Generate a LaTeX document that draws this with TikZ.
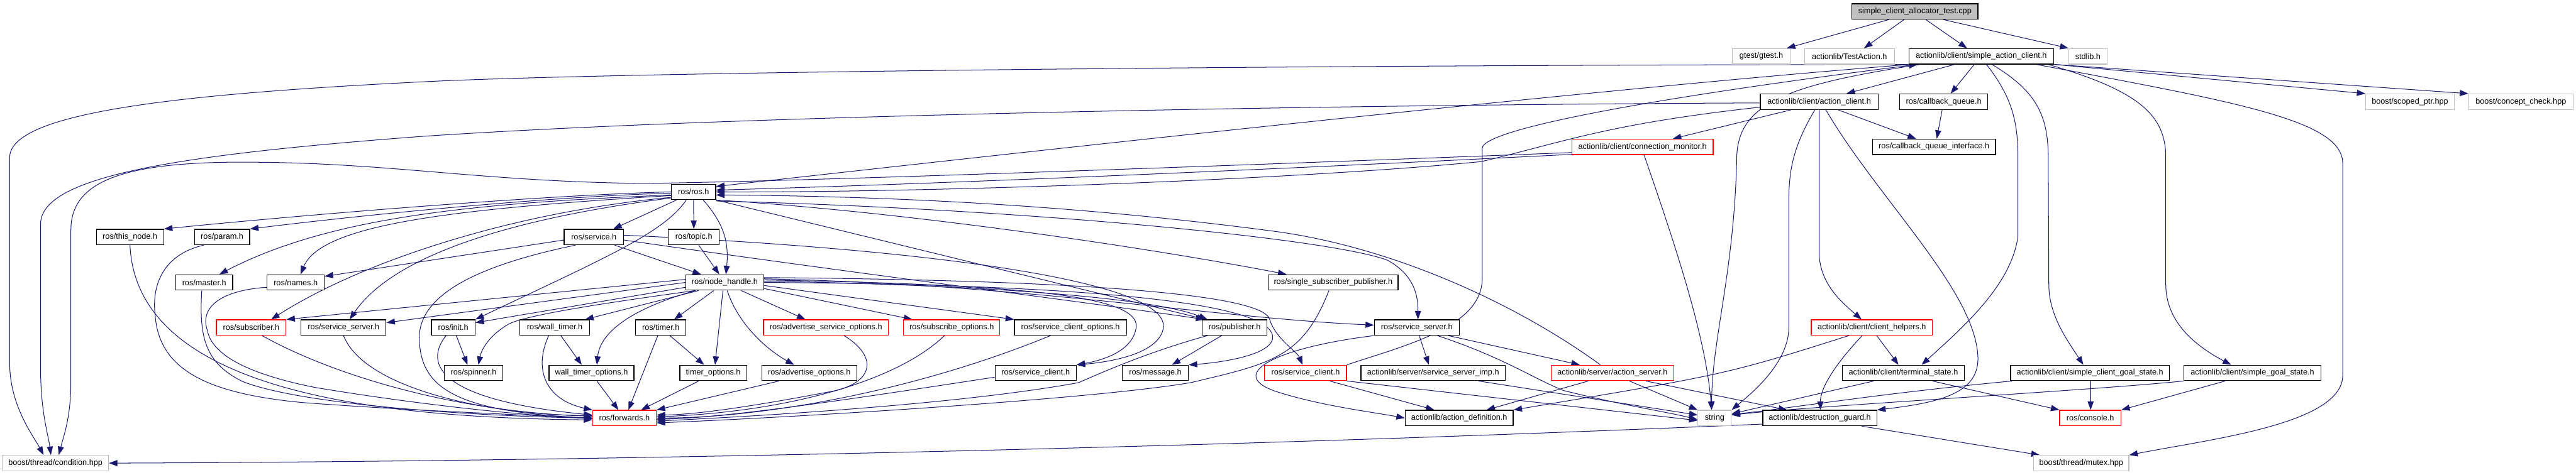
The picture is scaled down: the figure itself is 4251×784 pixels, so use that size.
\documentclass[tikz,border=0pt]{standalone}
\usepackage{fontspec}
\setmainfont{Liberation Sans}
\usetikzlibrary{arrows.meta}
\definecolor{edgec}{HTML}{191970}
\definecolor{gborder}{HTML}{BFBFBF}
\definecolor{rborder}{HTML}{FF0000}
\pgfdeclarelayer{bg}
\pgfsetlayers{bg,main}
\tikzset{
  nb/.style={draw=black, line width=0.35pt, minimum height=0.255cm, inner sep=0pt, fill=white,
    font=\fontsize{3.75pt}{4.5pt}\selectfont},
  nr/.style={nb, draw=rborder},
  ng/.style={nb, draw=gborder},
  ntop/.style={nb, fill=gborder},
  e/.style={draw=edgec, line width=0.3pt, -{Triangle[length=0.14cm,width=0.1cm]}}
}
\newcommand{\bx}[6]{\node[#1, minimum width=#2cm] (#3) at (#4,#5) {#6};}
\begin{document}
\begin{tikzpicture}[x=0.01cm, y=-0.01cm]
\useasboundingbox (0,0) rectangle (4251,784);
% nodes
\bx{ntop}{2.08}{top}{3160}{19}{simple\_client\_allocator\_test.cpp}
\bx{ng}{0.95}{gtest}{2906.5}{93}{gtest/gtest.h}
\bx{ng}{1.48}{testaction}{3052}{93}{actionlib/TestAction.h}
\bx{nb}{2.39}{sac}{3269.5}{93}{actionlib/client/simple\_action\_client.h}
\bx{ng}{0.63}{stdlib}{3445.5}{93}{stdlib.h}
\bx{nb}{1.94}{ac}{3002}{168}{actionlib/client/action\_client.h}
\bx{nb}{1.45}{cbq}{3207.5}{168}{ros/callback\_queue.h}
\bx{ng}{1.46}{scoped}{3977}{168}{boost/scoped\_ptr.hpp}
\bx{ng}{1.72}{concept}{4160}{168}{boost/concept\_check.hpp}
\bx{nr}{2.33}{cm}{2710.5}{242.5}{actionlib/client/connection\_monitor.h}
\bx{nb}{2.03}{cbqi}{3191.5}{242.5}{ros/callback\_queue\_interface.h}
\bx{nb}{0.73}{ros}{1144.5}{317}{ros/ros.h}
\bx{nb}{1.11}{thisnode}{214.5}{391.5}{ros/this\_node.h}
\bx{nb}{0.91}{param}{366.5}{391.5}{ros/param.h}
\bx{nb}{0.98}{service}{980}{391.5}{ros/service.h}
\bx{nb}{0.84}{topic}{1145}{391.5}{ros/topic.h}
\bx{nb}{0.94}{master}{337}{466.5}{ros/master.h}
\bx{nb}{0.94}{names}{488}{466.5}{ros/names.h}
\bx{nb}{1.28}{nh}{1196}{466.5}{ros/node\_handle.h}
\bx{nb}{2.14}{ssp}{2200}{466.5}{ros/single\_subscriber\_publisher.h}
\bx{nr}{1.15}{sub}{414.5}{541}{ros/subscriber.h}
\bx{nb}{1.40}{ssl}{567}{541}{ros/service\_server.h}
\bx{nb}{0.72}{init}{748}{541}{ros/init.h}
\bx{nb}{1.15}{wt}{915.5}{541}{ros/wall\_timer.h}
\bx{nb}{0.83}{timer}{1090.5}{541}{ros/timer.h}
\bx{nr}{2.06}{aso}{1363}{541}{ros/advertise\_service\_options.h}
\bx{nr}{1.59}{so}{1570.5}{541}{ros/subscribe\_options.h}
\bx{nb}{1.85}{sco}{1766.5}{541}{ros/service\_client\_options.h}
\bx{nb}{1.07}{pub}{2037.5}{541}{ros/publisher.h}
\bx{nb}{1.40}{ssr}{2338}{541}{ros/service\_server.h}
\bx{nr}{2.00}{ch}{3089}{541}{actionlib/client/client\_helpers.h}
\bx{nb}{0.97}{spin}{781.5}{616}{ros/spinner.h}
\bx{nb}{1.40}{wto}{976}{616}{wall\_timer\_options.h}
\bx{nb}{1.10}{tmo}{1177}{616}{timer\_options.h}
\bx{nb}{1.57}{ao}{1335.5}{616}{ros/advertise\_options.h}
\bx{nb}{1.34}{scb}{1709}{616}{ros/service\_client.h}
\bx{nb}{1.09}{msg}{1906.5}{616}{ros/message.h}
\bx{nr}{1.35}{scr}{2154.5}{616}{ros/service\_client.h}
\bx{nb}{2.38}{ssimp}{2365}{616}{actionlib/server/service\_server\_imp.h}
\bx{nr}{2.02}{asrv}{2661}{616}{actionlib/server/action\_server.h}
\bx{nb}{2.02}{ts}{3141}{616}{actionlib/client/terminal\_state.h}
\bx{nb}{2.62}{scgs}{3449}{616}{actionlib/client/simple\_client\_goal\_state.h}
\bx{nb}{2.26}{sgs}{3717}{616}{actionlib/client/simple\_goal\_state.h}
\bx{nr}{1.05}{fwd}{1030.5}{690.5}{ros/forwards.h}
\bx{nb}{1.78}{ad}{2408}{690.5}{actionlib/action\_definition.h}
\bx{ng}{0.55}{str}{2829.5}{690.5}{string}
\bx{nb}{1.88}{dg}{3003}{690.5}{actionlib/destruction\_guard.h}
\bx{nr}{1.01}{con}{3449.5}{690.5}{ros/console.h}
\bx{ng}{1.75}{cond}{91.5}{765}{boost/thread/condition.hpp}
\bx{ng}{1.57}{mutex}{3434.5}{765}{boost/thread/mutex.hpp}
% edges
\begin{pgfonlayer}{bg}
\fill[white] (0,0) rectangle (4251,784);
\draw[e] ([xshift=-0.43cm]top.south) -- ([xshift=0.42cm]gtest.north);
\draw[e] ([xshift=-0.18cm]top.south) -- ([xshift=0.24cm]testaction.north);
\draw[e] ([xshift=0.18cm]top.south) -- ([xshift=-0.235cm]sac.north);
\draw[e] ([xshift=0.47cm]top.south) -- (stdlib.north west);
% sac
\draw[e] ([xshift=-0.435cm]sac.south) -- ([xshift=0.45cm]ac.north);
\draw[e] ([xshift=-0.115cm]sac.south) -- ([xshift=0.115cm]cbq.north);
\draw[e] (sac.south east) -- (scoped.north west);
\draw[e] (sac.south east) -- (concept.north west);
\draw[e] ([xshift=-0.3cm]sac.south east) .. controls (3700,170) and (3866,200) .. (3866,270) -- (3866,620) .. controls (3866,700) and (3650,725) .. (mutex.north east);
\draw[e] ([xshift=-0.1cm]sac.south east) .. controls (3530,150) and (3574,190) .. (3574,260) -- (3574,470) .. controls (3574,530) and (3620,570) .. ([xshift=-0.35cm]sgs.north);
\draw[e] ([xshift=0.175cm]sac.south) .. controls (3360,150) and (3380,190) .. (3380,260) -- (3381,470) .. controls (3381,520) and (3410,560) .. ([xshift=-0.11cm]scgs.north);
\draw[e] ([xshift=0.085cm]sac.south) .. controls (3320,160) and (3330,200) .. (3330,260) -- (3330,390) .. controls (3320,470) and (3240,540) .. ([xshift=0.3cm]ts.north);
\draw[e] ([xshift=-1.0cm]sac.south) .. controls (2950,140) and (2868,170) .. (2866,260) .. controls (2862,450) and (2825,560) .. ([xshift=-0.05cm]str.north);
\draw[e] (scr.north east) .. controls (2320,570) and (2446,540) .. (2446,460) -- (2446,245) .. controls (2446,215) and (2700,165) .. ([xshift=-1.05cm]sac.south);
\draw[e] ([xshift=0.03cm]sac.south west) .. controls (2600,150) and (1700,250) .. ([yshift=0.09cm]ros.east);
\draw[e] (sac.south west) .. controls (2000,108) and (1000,120) .. (700,135) .. controls (300,155) and (16,185) .. (16,260) -- (16,600) .. controls (16,670) and (55,720) .. ([xshift=-0.195cm]cond.north);
% ac
\draw[e] ([yshift=-0.02cm]ac.west) .. controls (2400,172) and (1300,185) .. (700,225) .. controls (300,255) and (67,290) .. (67,370) -- (67,610) .. controls (67,680) and (80,720) .. ([xshift=-0.075cm]cond.north);
\draw[e] ([yshift=-0.09cm]ac.west) .. controls (2650,205) and (2580,235) .. (2444,267) .. controls (2100,300) and (1500,318) .. (ros.east);
\draw[e] ([xshift=-0.46cm]ac.south) -- ([xshift=0.5cm]cm.north);
\draw[e] ([xshift=0.31cm]ac.south) -- ([xshift=-0.295cm]cbqi.north);
\draw[e] ([xshift=-0.025cm]cbq.south) -- ([xshift=0.045cm]cbqi.north);
\draw[e] (ac.south) -- (3002,420) .. controls (3004,470) and (3040,500) .. ([xshift=-0.17cm]ch.north);
\draw[e] ([xshift=-0.07cm]ac.south) .. controls (2960,240) and (2952,280) .. (2952,330) -- (2952,540) .. controls (2952,600) and (2890,650) .. (str.north east);
\draw[e] ([xshift=0.11cm]ac.south) .. controls (3100,330) and (3260,480) .. (3264,590) .. controls (3266,650) and (3200,665) .. (dg.north east);
% cm
\draw[e] ([yshift=-0.095cm]cm.west) .. controls (2000,275) and (1300,300) .. (1062,303) .. controls (800,300) and (650,270) .. (426,268) .. controls (200,265) and (117,300) .. (117,380) -- (117,630) .. controls (117,690) and (105,720) .. ([xshift=0.055cm]cond.north);
\draw[e] ([yshift=-0.125cm]cm.west) .. controls (2000,285) and (1500,305) .. ([yshift=0.03cm]ros.east);
\draw[e] ([xshift=0.025cm]cm.south) .. controls (2770,420) and (2815,560) .. ([xshift=-0.05cm]str.north);
% client helpers etc
\draw[e] ([xshift=0.08cm]ch.south) -- ([xshift=-0.08cm]ts.north);
\draw[e] ([xshift=-0.16cm]ch.south) .. controls (3030,600) and (3004,640) .. ([xshift=0.01cm]dg.north);
\draw[e] ([xshift=-0.38cm]ch.south) .. controls (2850,618) .. (ad.north east);
\draw[e] ([xshift=-0.49cm]ts.south) -- ([yshift=0.07cm]str.east);
\draw[e] ([xshift=0.48cm]ts.south) -- (con.north west);
\draw[e] ([xshift=0.03cm]scgs.south west) .. controls (3100,650) and (2950,675) .. ([yshift=0.06cm]str.east);
\draw[e] ([xshift=0.01cm]scgs.south) -- ([xshift=0.005cm]con.north);
\draw[e] (sgs.south west) .. controls (3450,645) and (3000,670) .. ([yshift=0.05cm]str.east);
\draw[e] ([xshift=-0.45cm]sgs.south) -- (con.north east);
\draw[e] ([yshift=-0.1cm]dg.west) .. controls (2000,740) and (1000,762) .. (cond.east);
\draw[e] ([xshift=0.69cm]dg.south) -- ([xshift=-0.685cm]mutex.north);
% action server
\draw[e] ([xshift=-0.4cm]asrv.south) -- ([xshift=0.45cm]ad.north);
\draw[e] ([xshift=0.28cm]asrv.south) -- (str.north west);
\draw[e] ([xshift=0.55cm]asrv.south) -- ([xshift=-0.54cm]dg.north);
\draw[e] ([xshift=-0.2cm]asrv.north) .. controls (2500,500) and (2300,410) .. (2110,383) .. controls (1900,355) and (1600,325) .. ([yshift=-0.05cm]ros.east);
% ros
\draw[e] ([yshift=-0.15cm]ros.east) .. controls (1700,345) and (2200,395) .. (2290,430) .. controls (2335,455) and (2340,490) .. ([xshift=0.02cm]ssr.north);
\draw[e] (ros.south east) .. controls (1500,350) and (1900,410) .. ([xshift=-0.77cm]ssp.north);
\draw[e] (ros.south east) -- ([xshift=-0.475cm]pub.north);
\draw[e] (ros.south) -- (topic.north);
\draw[e] ([xshift=-0.28cm]ros.south) -- ([xshift=0.32cm]service.north);
\draw[e] ([xshift=0.16cm]ros.south) .. controls (1195,370) and (1203,400) .. ([xshift=0.02cm]nh.north);
\draw[e] ([xshift=-0.12cm]ros.south) .. controls (1095,385) and (1000,425) .. (init.north east);
\draw[e] (ros.west) .. controls (900,322) and (500,355) .. (thisnode.north east);
\draw[e] ([yshift=-0.02cm]ros.west) .. controls (900,325) and (600,355) .. (param.north east);
\draw[e] ([yshift=-0.05cm]ros.west) .. controls (800,335) and (550,355) .. ([xshift=0.25cm]master.north);
\draw[e] ([yshift=-0.06cm]ros.west) .. controls (750,345) and (530,370) .. ([xshift=0.08cm]names.north);
\draw[e] ([yshift=-0.09cm]ros.west) .. controls (850,350) and (600,430) .. ([xshift=0.33cm]sub.north);
\draw[e] ([yshift=-0.1cm]ros.west) .. controls (850,360) and (650,420) .. ([xshift=0.1cm]ssl.north);
% service / topic
\draw[e] ([xshift=0.34cm]service.south) -- ([xshift=-0.39cm]nh.north);
\draw[e] ([yshift=-0.05cm]service.west) -- ([yshift=0.1cm]names.east);
\draw[e] ([xshift=-0.3cm]service.south) .. controls (780,440) and (690,490) .. (692,560) .. controls (694,640) and (750,680) .. (fwd.west);
\draw[e] ([yshift=-0.05cm]service.east) .. controls (1400,450) and (1800,500) .. ([xshift=-0.5cm]pub.north);
\draw[e] ([yshift=0.03cm]service.east) .. controls (1500,410) and (1925,460) .. (1920,540) .. controls (1915,585) and (1830,598) .. (scb.north east);
\draw[e] ([xshift=0.08cm]topic.south) -- ([xshift=-0.09cm]nh.north);
% node_handle
\draw[e] ([yshift=-0.08cm]nh.west) -- ([yshift=0.08cm]init.east);
\draw[e] ([yshift=0.05cm]nh.west) -- (sub.north east);
\draw[e] (nh.west) -- ([yshift=0.08cm]ssl.east);
\draw[e] ([xshift=-0.48cm]nh.south) .. controls (1000,500) and (870,520) .. (840,535) .. controls (810,552) and (795,575) .. ([xshift=0.08cm]spin.north);
\draw[e] ([xshift=-0.43cm]nh.south) -- ([xshift=0.5cm]wt.north);
\draw[e] ([xshift=-0.48cm]nh.south) .. controls (1040,510) and (990,550) .. ([xshift=0.09cm]wto.north);
\draw[e] ([xshift=-0.18cm]nh.south) -- ([xshift=0.22cm]timer.north);
\draw[e] ([xshift=-0.03cm]nh.south) -- ([xshift=0.03cm]tmo.north);
\draw[e] ([xshift=0.04cm]nh.south) .. controls (1220,540) and (1270,580) .. ([xshift=-0.25cm]ao.north);
\draw[e] ([xshift=0.27cm]nh.south) -- ([xshift=-0.34cm]aso.north);
\draw[e] ([yshift=-0.1cm]nh.east) -- ([xshift=-0.65cm]so.north);
\draw[e] ([yshift=-0.05cm]nh.east) -- (sco.north west);
\draw[e] ([yshift=0.02cm]nh.east) .. controls (1600,470) and (1900,490) .. ([xshift=-0.45cm]pub.north);
\draw[e] ([yshift=0.04cm]nh.east) .. controls (1700,470) and (1880,490) .. (1875,540) .. controls (1870,580) and (1820,595) .. (scb.north east);
\draw[e] ([yshift=0.08cm]nh.east) .. controls (1700,462) and (2080,480) .. (2095,527) .. controls (2105,560) and (2140,580) .. ([xshift=-0.05cm]scr.north);
\draw[e] ([yshift=0.06cm]nh.east) .. controls (1700,470) and (2000,525) .. ([yshift=0.04cm]ssr.west);
\draw[e] (nh.east) .. controls (1800,470) and (2110,500) .. (2100,560) .. controls (2093,590) and (2000,600) .. (msg.north east);
% second level
\draw[e] ([xshift=0.05cm]init.south) -- ([xshift=-0.1cm]spin.north);
\draw[e] ([xshift=-0.12cm]init.south) .. controls (700,600) and (720,660) .. ([yshift=0.05cm]fwd.west);
\draw[e] ([xshift=0.1cm]wt.south) -- ([xshift=-0.16cm]wto.north);
\draw[e] ([xshift=-0.1cm]wt.south) .. controls (880,610) and (900,660) .. (fwd.north west);
\draw[e] ([xshift=0.09cm]wto.south) -- ([xshift=-0.1cm]fwd.north);
\draw[e] ([xshift=-0.05cm]timer.south) -- ([xshift=0.065cm]fwd.north);
\draw[e] ([xshift=0.15cm]timer.south) -- ([xshift=-0.15cm]tmo.north);
\draw[e] ([xshift=-0.24cm]tmo.south) -- ([xshift=0.275cm]fwd.north);
\draw[e] ([xshift=-0.5cm]ao.south) -- (fwd.north east);
\draw[e] ([xshift=0.3cm]aso.south) .. controls (1450,590) and (1440,630) .. (1380,645) .. controls (1250,670) and (1150,685) .. ([yshift=0.05cm]fwd.east);
\draw[e] ([xshift=-0.12cm]so.south) .. controls (1480,630) and (1300,680) .. ([yshift=0.02cm]fwd.east);
\draw[e] ([xshift=-0.33cm]sco.south) .. controls (1500,650) and (1250,690) .. (fwd.east);
\draw[e] ([yshift=-0.07cm]scb.west) .. controls (1400,660) and (1200,690) .. ([yshift=-0.02cm]fwd.east);
\draw[e] ([xshift=-0.45cm]pub.south) .. controls (1900,580) and (1830,610) .. (1780,632) .. controls (1600,665) and (1300,685) .. ([yshift=-0.05cm]fwd.east);
\draw[e] ([xshift=-0.07cm]ssp.south) .. controls (2150,590) and (2100,600) .. (1965,632) .. controls (1800,660) and (1300,690) .. ([yshift=-0.08cm]fwd.east);
\draw[e] ([xshift=-0.215cm]pub.south) -- ([xshift=0.275cm]msg.north);
% left side into forwards
\draw[e] (thisnode.south) .. controls (225,640) and (600,690) .. ([yshift=-0.03cm]fwd.west);
\draw[e] ([xshift=-0.3cm]param.south) .. controls (270,420) and (250,470) .. (256,520) .. controls (262,610) and (340,650) .. (500,665) .. controls (700,680) and (900,686) .. ([yshift=-0.015cm]fwd.west);
\draw[e] ([xshift=-0.04cm]master.south) .. controls (328,560) and (340,600) .. (400,630) .. controls (500,670) and (800,688) .. (fwd.west);
\draw[e] ([yshift=-0.08cm]names.west) .. controls (360,480) and (330,510) .. (342,545) .. controls (350,590) and (420,620) .. (520,640) .. controls (700,670) and (880,688) .. (fwd.west);
\draw[e] ([xshift=0.18cm]sub.south) .. controls (550,620) and (750,680) .. ([yshift=0.03cm]fwd.west);
\draw[e] (ssl.south) .. controls (600,640) and (800,685) .. ([yshift=0.04cm]fwd.west);
% service server (right)
\draw[e] ([xshift=0.04cm]ssr.south) -- ([xshift=-0.07cm]ssimp.north);
\draw[e] ([xshift=0.52cm]ssr.south) -- ([xshift=-0.54cm]asrv.north);
\draw[e] ([xshift=0.34cm]ssr.south) .. controls (2480,590) and (2530,625) .. (2580,645) .. controls (2680,670) and (2760,682) .. ([yshift=-0.03cm]str.west);
\draw[e] (ssr.south west) .. controls (2100,575) and (2020,620) .. (2110,648) .. controls (2180,670) and (2260,680) .. (ad.west);
\draw[e] ([xshift=0.75cm]ssimp.south) -- ([yshift=0.05cm]str.west);
\draw[e] ([xshift=0.4cm]scr.south) -- ([xshift=-0.41cm]ad.north);
\draw[e] (scr.south east) -- ([yshift=-0.04cm]str.west);
\end{pgfonlayer}
\end{tikzpicture}
\end{document}
